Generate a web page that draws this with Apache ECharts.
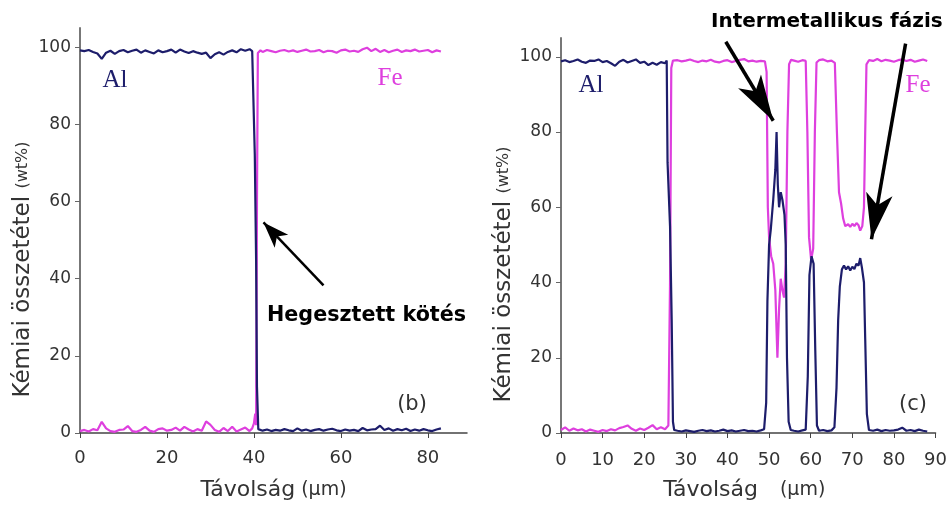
<!DOCTYPE html>
<html>
<head>
<meta charset="utf-8">
<style>
  html, body { margin: 0; padding: 0; background: #fff; }
  #chart { width: 950px; height: 506px; }
</style>
<script src="https://cdn.jsdelivr.net/npm/echarts@6/dist/echarts.min.js"></script>
</head>
<body>
<div id="chart"></div>
<script>
// (b) panel - line scan across the weld, [distance µm, wt%]
const alB = [
  [0, 99.2], [1, 99.0], [2, 99.3], [3, 98.8], [4, 98.4], [5, 97.0], [6, 98.6], [7, 99.1], [8, 98.3], [9, 99.0],
  [10, 99.3], [11, 98.7], [12, 99.1], [13, 99.4], [14, 98.6], [15, 99.2], [16, 98.8], [17, 98.4], [18, 99.2], [19, 98.7],
  [20, 99.0], [21, 99.4], [22, 98.6], [23, 99.4], [24, 98.9], [25, 98.5], [26, 99.0], [27, 98.6], [28, 98.3], [29, 98.6],
  [30, 97.2], [31, 98.2], [32, 98.7], [33, 98.1], [34, 98.8], [35, 99.2], [36, 98.7], [37, 99.5], [38, 99.1], [39, 99.5],
  [39.6, 99.0], [40.0, 98.6], [40.2, 72], [40.5, 45], [40.7, 12], [41.0, 1.0],
  [42, 0.6], [43, 0.9], [44, 0.5], [45, 0.8], [46, 0.6], [47, 1.0], [48, 0.7], [49, 0.5], [50, 1.2], [51, 0.6],
  [52, 0.9], [53, 0.5], [54, 0.8], [55, 1.0], [56, 0.6], [57, 0.9], [58, 1.1], [59, 0.7], [60, 0.5], [61, 0.9],
  [62, 0.6], [63, 0.8], [64, 0.5], [65, 1.3], [66, 0.7], [67, 0.9], [68, 1.0], [69, 1.9], [70, 0.8], [71, 1.2],
  [72, 0.6], [73, 1.0], [74, 0.7], [75, 1.1], [76, 0.5], [77, 0.9], [78, 0.6], [79, 1.0], [80, 0.7], [81, 0.5],
  [82, 0.9], [83, 1.2]
];
const feB = [
  [0, 0.5], [1, 0.8], [2, 0.4], [3, 1.0], [4, 0.7], [5, 2.9], [6, 1.2], [7, 0.5], [8, 0.3], [9, 0.8],
  [10, 0.9], [11, 1.8], [12, 0.5], [13, 0.3], [14, 0.8], [15, 1.6], [16, 0.6], [17, 0.3], [18, 1.0], [19, 1.2],
  [20, 0.6], [21, 0.8], [22, 1.4], [23, 0.6], [24, 1.6], [25, 0.9], [26, 0.4], [27, 1.0], [28, 0.6], [29, 3.0],
  [30, 2.1], [31, 0.8], [32, 0.3], [33, 1.3], [34, 0.5], [35, 1.6], [36, 0.4], [37, 0.9], [38, 1.4], [39, 0.5],
  [39.6, 1.2], [40.0, 2.5], [40.3, 5.0], [40.5, 2.0], [40.7, 60], [40.9, 98.5],
  [41.5, 99.2], [42, 98.8], [43, 99.3], [44, 99.0], [45, 98.7], [46, 99.1], [47, 99.3], [48, 98.9], [49, 99.2],
  [50, 98.8], [51, 99.1], [52, 99.4], [53, 98.9], [54, 99.0], [55, 99.3], [56, 98.7], [57, 99.1], [58, 99.0], [59, 98.6],
  [60, 99.2], [61, 99.4], [62, 98.9], [63, 99.1], [64, 98.8], [65, 99.5], [66, 99.9], [67, 99.0], [68, 99.6], [69, 98.8],
  [70, 99.3], [71, 98.7], [72, 99.1], [73, 99.4], [74, 98.8], [75, 99.2], [76, 99.0], [77, 99.4], [78, 98.9], [79, 99.1],
  [80, 99.3], [81, 98.7], [82, 99.2], [83, 98.9]
];

// (c) panel - line scan across the intermetallic layer
const alC = [
  [0, 98.8], [1, 99.1], [2, 98.6], [3, 98.9], [4, 99.3], [5, 98.7], [6, 98.4], [7, 99.0], [8, 98.9], [9, 99.3],
  [10, 98.6], [11, 98.9], [12, 98.3], [13, 97.6], [14, 98.7], [15, 99.2], [16, 98.5], [17, 98.9], [18, 99.3], [19, 98.4],
  [20, 98.7], [21, 97.8], [22, 98.4], [23, 97.9], [24, 98.6], [25, 98.3], [25.4, 99.0], [25.6, 72], [26.2, 55], [26.6, 30],
  [26.9, 3], [27.2, 0.8],
  [28, 0.6], [29, 0.4], [30, 0.7], [31, 0.5], [32, 0.3], [33, 0.6], [34, 0.8], [35, 0.5], [36, 0.7], [37, 0.4],
  [38, 0.6], [39, 0.9], [40, 0.5], [41, 0.7], [42, 0.4], [43, 0.6], [44, 0.8], [45, 0.5], [46, 0.6], [47, 0.4],
  [48, 0.7], [48.8, 1.0], [49.3, 8], [49.6, 35], [50, 50], [50.4, 54], [51, 62], [51.5, 70], [51.8, 80], [52.1, 66],
  [52.4, 60], [52.8, 64], [53.2, 62], [53.7, 58], [54.0, 50], [54.3, 20], [54.7, 3], [55.2, 0.8],
  [56, 0.6], [57, 0.4], [58, 0.7], [58.8, 0.9], [59.3, 15], [59.7, 42], [60.2, 47], [60.7, 45], [61.1, 22], [61.5, 2],
  [62, 0.6], [63, 0.8], [64, 0.5], [65, 0.7], [65.7, 1.5], [66.2, 12], [66.6, 30], [67, 39], [67.5, 43.5], [68, 44.5],
  [68.5, 43.5], [69, 44.3], [69.5, 43.2], [70, 44.2], [70.5, 43.6], [71, 45], [71.5, 44.5], [71.9, 46.5], [72.3, 44], [72.8, 40],
  [73.1, 25], [73.5, 5], [74, 0.8],
  [75, 0.6], [76, 0.9], [77, 0.5], [78, 0.8], [79, 0.6], [80, 0.7], [81, 0.9], [82, 1.4], [83, 0.6], [84, 0.8],
  [85, 0.5], [86, 0.9], [87, 0.6], [88, 0.4]
];
const feC = [
  [0, 0.8], [1, 1.5], [2, 0.6], [3, 1.2], [4, 0.7], [5, 1.0], [6, 0.4], [7, 0.9], [8, 0.6], [9, 0.3],
  [10, 0.8], [11, 0.5], [12, 1.0], [13, 0.7], [14, 1.3], [15, 1.6], [16, 2.0], [17, 1.1], [18, 0.6], [19, 1.2],
  [20, 0.8], [21, 1.4], [22, 2.1], [23, 1.0], [24, 1.5], [25, 1.0], [25.8, 2.0], [26.2, 40], [26.5, 97], [26.9, 99.0],
  [28, 99.1], [29, 98.8], [30, 99.0], [31, 99.3], [32, 98.9], [33, 98.6], [34, 99.0], [35, 98.8], [36, 99.2], [37, 98.7],
  [38, 98.5], [39, 98.9], [40, 99.1], [41, 98.6], [42, 98.9], [43, 99.2], [44, 99.4], [45, 98.8], [46, 99.0], [47, 98.7],
  [48, 98.9], [49, 98.8], [49.4, 96], [49.7, 60], [50, 52], [50.5, 47], [51, 45], [51.5, 38], [52, 20], [52.4, 33],
  [52.8, 41], [53.2, 38], [53.6, 36], [54, 45], [54.4, 80], [54.8, 98], [55.3, 99.2],
  [56, 99.0], [57, 98.7], [58, 99.1], [58.8, 98.9], [59.2, 80], [59.6, 52], [60.1, 46], [60.6, 49], [61.0, 80], [61.4, 98.5],
  [62, 99.1], [63, 99.3], [64, 98.8], [65, 99.0], [65.8, 98.4], [66.3, 80], [66.8, 64], [67.3, 61], [67.8, 57], [68.3, 55],
  [69, 55.5], [69.5, 54.8], [70, 55.6], [70.5, 55], [71, 55.8], [71.5, 55.2], [71.9, 53.8], [72.4, 55], [72.8, 60], [73.1, 80],
  [73.4, 98], [74, 99.1],
  [75, 98.9], [76, 99.4], [77, 98.8], [78, 99.2], [79, 99.0], [80, 98.7], [81, 99.1], [82, 99.3], [83, 98.9], [84, 99.2],
  [85, 98.7], [86, 99.0], [87, 99.3], [88, 98.9]
];

const xTicksB = [0, 20, 40, 60, 80];
const xTicksC = [0, 10, 20, 30, 40, 50, 60, 70, 80, 90];
const yTicks = [0, 20, 40, 60, 80, 100];

// annotation arrows, [tail, tip] in data units
const arrowWeld = [[56, 38.3], [42.2, 54.6]];
const arrowPhase1 = [[39.6, 104], [51.0, 83]];
const arrowPhase2 = [[82.8, 103.5], [74.6, 51.5]];

const NAVY = '#1d1d6b';
const MAGENTA = '#de3fde';
const SANS = '"DejaVu Sans", sans-serif';
const SERIF = '"Liberation Serif", "DejaVu Serif", serif';

const chart = echarts.init(document.getElementById('chart'));

function xAxis(idx, max, ticks, name, margin, pad) {
  return {
    type: 'value',
    gridIndex: idx,
    min: 0,
    max,
    name,
    nameLocation: 'middle',
    nameGap: 46,
    nameTextStyle: {
      padding: pad,
      rich: {
        a: { fontSize: 22, fontFamily: SANS, color: '#333' },
        b: { fontSize: 19, fontFamily: SANS, color: '#333' },
        g: { width: 22 },
      },
    },
    axisLine: { lineStyle: { color: '#444', width: 1.5 } },
    axisTick: { customValues: ticks, length: 5, lineStyle: { color: '#444' } },
    axisLabel: { customValues: ticks, fontSize: 18, fontFamily: SANS, color: '#333', margin },
    splitLine: { show: false },
  };
}

function yAxis(idx) {
  return {
    type: 'value',
    gridIndex: idx,
    min: 0,
    max: 105,
    name: '{a|Kémiai összetétel }{b|(wt%)}',
    nameLocation: 'middle',
    nameRotate: 90,
    nameGap: 45,
    nameTextStyle: {
      padding: [0, 78, 0, 0],
      rich: {
        a: { fontSize: 23, fontFamily: SANS, color: '#333' },
        b: { fontSize: 16, fontFamily: SANS, color: '#333' },
      },
    },
    axisLine: { lineStyle: { color: '#777', width: 2 } },
    axisTick: { customValues: yTicks, length: 5, lineStyle: { color: '#666' } },
    axisLabel: { customValues: yTicks, fontSize: 17, fontFamily: SANS, color: '#333', margin: 9 },
    splitLine: { show: false },
  };
}

function arrows(list, width, head) {
  return {
    silent: true,
    symbol: ['none', 'arrow'],
    symbolSize: head,
    label: { show: false },
    lineStyle: { color: '#000', width, type: 'solid' },
    emphasis: { disabled: true },
    data: list.map(pts => [{ coord: pts[0] }, { coord: pts[1] }]),
  };
}

function line(name, data, color, idx, markLine) {
  const s = {
    name,
    type: 'line',
    xAxisIndex: idx,
    yAxisIndex: idx,
    data,
    showSymbol: false,
    lineStyle: { color, width: 2.2 },
    itemStyle: { color },
  };
  if (markLine) s.markLine = markLine;
  return s;
}

function label(text, x, y, font, fill, align) {
  return {
    type: 'text',
    x,
    y,
    style: { text, font, fill, align: align || 'center', verticalAlign: 'middle' },
  };
}

chart.setOption({
  animation: false,
  backgroundColor: '#fff',
  grid: [
    { left: 80, right: 483, top: 28, bottom: 70 },
    { left: 561, right: 12, top: 38, bottom: 73 },
  ],
  xAxis: [
    xAxis(0, 89, xTicksB, '{a|Távolság}{b| (µm)}', 16, [0, 0, 0, 0]),
    xAxis(1, 90, xTicksC, '{a|Távolság}{g|}{b|(µm)}', 18, [0, 8, 0, 0]),
  ],
  yAxis: [yAxis(0), yAxis(1)],
  series: [
    line('Fe', feB, MAGENTA, 0, arrows([arrowWeld], 2.5, [14, 26])),
    line('Al', alB, NAVY, 0),
    line('Fe', feC, MAGENTA, 1, arrows([arrowPhase1, arrowPhase2], 3.5, [20, 46])),
    line('Al', alC, NAVY, 1),
  ],
  graphic: [
    label('Al', 115, 80, '25px ' + SERIF, NAVY),
    label('Fe', 390, 78, '25px ' + SERIF, MAGENTA),
    label('Al', 591, 85, '25px ' + SERIF, NAVY),
    label('Fe', 918, 85, '25px ' + SERIF, MAGENTA),
    label('(b)', 412, 405, '21px ' + SANS, '#333'),
    label('(c)', 913, 405, '21px ' + SANS, '#333'),
    label('Hegesztett kötés', 267, 316, 'bold 20.7px ' + SANS, '#000', 'left'),
    label('Intermetallikus fázis', 711, 22, 'bold 20px ' + SANS, '#000', 'left'),
  ],
});
</script>
</body>
</html>
